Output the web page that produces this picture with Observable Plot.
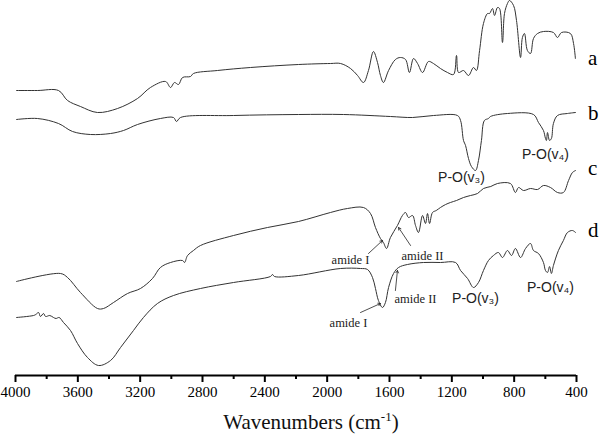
<!DOCTYPE html>
<html>
<head>
<meta charset="utf-8">
<script src="https://cdn.jsdelivr.net/npm/d3@7"></script>
<script src="https://cdn.jsdelivr.net/npm/@observablehq/plot@0.6"></script>
<style>
  body { margin: 0; background: white; }
</style>
</head>
<body>
<div id="chart"></div>
<script>
// Wavenumber (cm-1) and offset transmittance (arbitrary units) per spectrum
const waveA = [3994,3859,3724,3666,3583,3474,3345,3217,3134,3037,3005,2980,2954,2928,2877,2858,2704,2492,2184,1979,1914,1850,1805,1767,1735,1703,1677,1658,1639,1606,1562,1530,1497,1472,1446,1420,1388,1350,1318,1273,1228,1189,1170,1157,1125,1093,1061,1042,1022,997,971,958,939,926,907,894,875,862,843,830,804,785,759,747,734,715,695,676,650,612,548,522,496,439,419,407];
const specA = [285,285,285,275,269,263,267,277,288,294,288,293,291,298,299,302,305,308,311,312,312,307,300,293,305,324,313,300,293,305,316,318,316,303,317,312,303,314,312,307,303,301,320,303,305,300,308,305,325,352,362,362,367,360,368,367,333,362,372,375,370,355,318,338,342,325,322,337,342,344,343,338,343,342,332,317];

const waveB = [3994,3859,3724,3634,3519,3390,3307,3217,3070,2986,2967,2941,2601,2184,1895,1594,1452,1318,1164,1144,1125,1112,1093,1074,1048,1029,1010,991,965,952,843,676,644,612,599,593,586,573,561,548,522,458,406];
const specB = [256,257,252,244,241,242,245,251,257,258,254,258,260,261,261,259,258,260,260,255,235,230,217,209,205,215,235,255,257,259,262,261,253,245,237,235,243,235,237,252,260,262,263];

const waveC = [3994,3711,3666,3583,3474,3435,3371,3281,3198,3121,3070,3005,2928,2915,2896,2858,2813,2601,2383,2184,1979,1870,1767,1722,1690,1658,1639,1619,1594,1549,1517,1497,1478,1452,1433,1414,1388,1369,1356,1343,1324,1300,1273,1240,1209,1170,1125,1080,1035,997,950,907,824,792,772,740,695,650,612,567,522,484,451,426,406];
const specC = [94,102,98,83,67,67,73,82,87,97,108,113,115,113,120,125,130,140,148,154,163,167,168,162,148,137,133,127,138,150,160,163,158,160,150,143,160,152,162,152,163,165,168,171,173,175,178,180,182,187,189,192,192,183,188,185,187,186,190,188,183,183,195,203,205];

const waveD = [3994,3884,3870,3852,3840,3820,3807,3780,3756,3740,3720,3692,3647,3602,3538,3467,3390,3326,3243,3179,3089,2986,2813,2601,2364,2351,2338,2184,1914,1786,1741,1709,1690,1671,1645,1626,1606,1574,1542,1485,1382,1273,1176,1144,1099,1061,1029,997,965,933,901,875,843,817,792,759,727,695,676,644,612,599,586,573,561,548,516,484,458,426,406];
const specD = [58,60,61,63,59,62,59,60,58,57,58,53,45,32,18,10,15,28,45,58,72,80,87,93,99,101,99,100,107,107,106,98,87,75,68,73,88,102,108,111,113,113,113,105,97,88,93,105,115,120,123,118,125,120,127,118,127,132,125,122,113,105,103,109,102,110,125,135,143,145,143];

// Curve letters
const letterNames = ["a","b","c","d"];
const letterY = [317,262,207,145];

// Band annotations
const annoText = ["P-O(v\u2083)","P-O(v\u2084)","P-O(v\u2083)","P-O(v\u2084)"];
const annoX = [1138,599,1048,567];
const annoY = [198,221,77,88];

const amideText = ["amide I","amide II","amide I","amide II"];
const amideX = [1850,1388,1863,1433];
const amideY = [116,120,53,77];
const arrowX1 = [1735,1465,1786,1562];
const arrowY1 = [122,130,63,85];
const arrowX2 = [1645,1542,1658,1549];
const arrowY2 = [135,148,72,105];

const majorTicks = [4000,3600,3200,2800,2400,2000,1600,1200,800,400];
const minorTicks = [3800,3400,3000,2600,2200,1800,1400,1000,600];

const series = [
  {id: "a", w: waveA, s: specA},
  {id: "b", w: waveB, s: specB},
  {id: "c", w: waveC, s: specC},
  {id: "d", w: waveD, s: specD}
];
const rows = series.flatMap(S => S.w.map((w, i) => ({id: S.id, w, t: S.s[i]})));
const letters = letterNames.map((l, i) => ({l, y: letterY[i]}));
const annos = annoText.map((t, i) => ({t, x: annoX[i], y: annoY[i]}));
const amides = amideText.map((t, i) => ({t, x: amideX[i], y: amideY[i], x1: arrowX1[i], y1: arrowY1[i], x2: arrowX2[i], y2: arrowY2[i]}));

const chart = Plot.plot({
  width: 600,
  height: 434,
  marginLeft: 15,
  marginRight: 24,
  marginTop: 0,
  marginBottom: 59,
  style: {fontFamily: "'Liberation Serif', 'Times New Roman', serif", background: "white", color: "black"},
  x: {domain: [4000, 400]},
  y: {domain: [0, 375], axis: null},
  marks: [
    Plot.line(rows, {x: "w", y: "t", z: "id", stroke: "#333", strokeWidth: 1, curve: "catmull-rom"}),
    Plot.ruleY([0], {stroke: "black", strokeWidth: 2}),
    Plot.axisX({ticks: majorTicks, tickSize: 7, tickPadding: 4, strokeWidth: 2, fontSize: 15, tickFormat: d => String(d), label: null}),
    Plot.axisX({ticks: minorTicks, tickSize: 4, strokeWidth: 2, tickFormat: () => "", label: null}),
    Plot.text(letters, {x: () => 326, y: "y", text: "l", textAnchor: "start", fontSize: 21, fill: "black"}),
    Plot.text(annos, {x: "x", y: "y", text: "t", fontSize: 14, fill: "#222", fontFamily: "'Liberation Sans', Arial, sans-serif"}),
    Plot.text(amides, {x: "x", y: "y", text: "t", fontSize: 12.5, fill: "#222"}),
    Plot.arrow(amides, {x1: "x1", y1: "y1", x2: "x2", y2: "y2", stroke: "#222", strokeWidth: 0.8, headLength: 5})
  ]
});

const svg = d3.select(chart);
const title = svg.append("text")
  .attr("x", 311).attr("y", 429)
  .attr("text-anchor", "middle")
  .attr("font-family", "'Liberation Serif', 'Times New Roman', serif")
  .attr("font-size", 21)
  .attr("fill", "#111");
title.append("tspan").text("Wavenumbers (cm");
title.append("tspan").attr("font-size", 13).attr("dy", -8).text("-1");
title.append("tspan").attr("dy", 8).text(")");

document.getElementById("chart").append(chart);
</script>
</body>
</html>
